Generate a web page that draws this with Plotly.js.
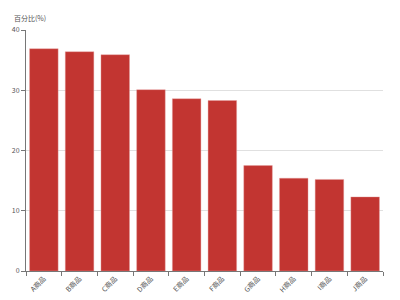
<!DOCTYPE html>
<html>
<head>
<meta charset="utf-8">
<script src="https://cdn.plot.ly/plotly-3.0.1.min.js"></script>
<style>html,body{margin:0;padding:0;background:#fff;}#chart{width:400px;height:300px;}</style>
</head>
<body>
<div id="chart"></div>
<script>
var categories = ["A商品","B商品","C商品","D商品","E商品","F商品","G商品","H商品","I商品","J商品"];
var percentValues = [36.9, 36.4, 35.9, 30.1, 28.6, 28.3, 17.5, 15.4, 15.2, 12.3];
var yTicks = [0, 10, 20, 30, 40];
var yAxisName = "百分比(%)";

var font = "'Noto Sans CJK SC', 'DejaVu Sans', sans-serif";
var trace = {
  type: "bar",
  x: categories,
  y: percentValues,
  marker: {color: "#c23531", line: {color: "rgba(230,160,160,0.8)", width: 0.5}},
  hoverinfo: "none"
};
var layout = {
  width: 400, height: 300,
  margin: {l: 26, r: 17, t: 30, b: 29, pad: 0},
  paper_bgcolor: "#fff", plot_bgcolor: "#fff",
  showlegend: false,
  bargap: 0.2,
  font: {family: font, size: 7, color: "#555"},
  xaxis: {
    type: "category",
    showline: true, linecolor: "#777", linewidth: 1,
    ticks: "outside", ticklen: 4, tickcolor: "#777", tickson: "boundaries",
    tickangle: -45, tickfont: {size: 7, color: "#555"},
    showgrid: false, zeroline: false, fixedrange: true
  },
  yaxis: {
    range: [0, 40], tickvals: yTicks, ticktext: yTicks.map(String),
    showline: true, linecolor: "#777", linewidth: 1,
    ticks: "outside", ticklen: 4, tickcolor: "#777",
    showgrid: true, gridcolor: "#e0e0e0", gridwidth: 1,
    zeroline: false, tickfont: {size: 7, color: "#555"}, fixedrange: true
  },
  annotations: [{
    text: yAxisName, xref: "paper", yref: "paper", x: -0.04, y: 1.0,
    xanchor: "left", yanchor: "bottom", yshift: 5, showarrow: false,
    font: {family: font, size: 7, color: "#555"}
  }]
};
Plotly.newPlot("chart", [trace], layout, {displayModeBar: false, staticPlot: true});
</script>
</body>
</html>
